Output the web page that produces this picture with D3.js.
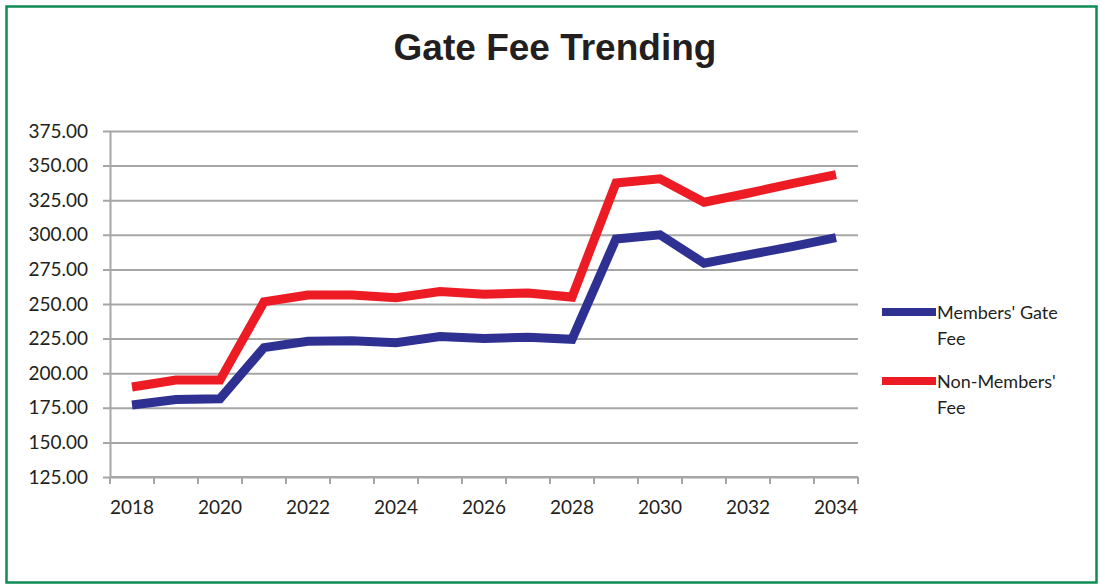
<!DOCTYPE html>
<html>
<head>
<meta charset="utf-8">
<script src="https://cdn.jsdelivr.net/npm/d3@7"></script>
<style>
  html, body { margin: 0; padding: 0; background: #fff; }
  svg { display: block; }
</style>
</head>
<body>
<svg id="chart" width="1101" height="585"></svg>
<script>
// Fee schedule by year
const years = ["2018","2019","2020","2021","2022","2023","2024","2025","2026",
               "2027","2028","2029","2030","2031","2032","2033","2034"];
const membersFee = [177, 181, 181.5, 218.5, 223, 223.5, 222, 226.5, 225,
                    226, 224.5, 297, 300, 279.5, 285.5, 291.5, 298];
const nonMembersFee = [190, 195, 195, 251.5, 256.5, 256.5, 254.5, 259, 257,
                       258, 255, 337.5, 340.5, 323.5, 330, 337, 343.5];
const yTicks = [125, 150, 175, 200, 225, 250, 275, 300, 325, 350, 375];
const xTickLabels = years.filter((d, i) => i % 2 === 0);

const seriesNames = ["Members' Gate Fee", "Non-Members' Fee"];
const seriesColors = ["#2e3192", "#ed1c24"];
const legendLines = [["Members' Gate", "Fee"], ["Non-Members'", "Fee"]];

const svg = d3.select("#chart");
const plot = { left: 110, right: 858, top: 131, bottom: 477 };

// outer frame
svg.append("rect")
  .attr("x", 6.5).attr("y", 6.5)
  .attr("width", 1090).attr("height", 576)
  .attr("fill", "#fff")
  .attr("stroke", "#0e8c56")
  .attr("stroke-width", 2.5);

// title
svg.append("text")
  .attr("x", 555).attr("y", 60)
  .attr("text-anchor", "middle")
  .attr("font-family", "'Liberation Sans', Arial, sans-serif")
  .attr("font-weight", "bold")
  .attr("font-size", 37)
  .attr("fill", "#231f20")
  .text("Gate Fee Trending");

const x = d3.scaleBand().domain(years).range([plot.left, plot.right]).padding(0);
const y = d3.scaleLinear().domain([125, 375]).range([plot.bottom, plot.top]);

const gridColor = "#a6a6a6";
const labelFont = "Lato, 'Open Sans', sans-serif";

// y axis with full-width gridlines
const yAxis = svg.append("g")
  .attr("transform", `translate(${plot.left},0)`)
  .call(d3.axisLeft(y)
    .tickValues(yTicks)
    .tickFormat(d3.format(".2f"))
    .tickSizeInner(-(plot.right - plot.left))
    .tickSizeOuter(0)
    .tickPadding(22));
yAxis.select(".domain").attr("stroke", gridColor).attr("stroke-width", 2);
yAxis.selectAll(".tick line")
  .attr("stroke", gridColor).attr("stroke-width", 2)
  .attr("x1", -7);
yAxis.selectAll(".tick text")
  .attr("font-family", labelFont)
  .attr("font-size", 19)
  .attr("fill", "#231f20");

// x axis: ticks on band edges, labels on every other band
const xAxisG = svg.append("g")
  .attr("transform", `translate(0,${plot.bottom})`);
xAxisG.append("line")
  .attr("x1", plot.left).attr("x2", plot.right)
  .attr("stroke", gridColor).attr("stroke-width", 2);
const edges = years.map(d => x(d)).concat([x(years[years.length - 1]) + x.bandwidth()]);
xAxisG.selectAll("line.tk").data(edges).join("line")
  .attr("class", "tk")
  .attr("x1", d => d).attr("x2", d => d)
  .attr("y1", 0).attr("y2", 7)
  .attr("stroke", gridColor).attr("stroke-width", 2);
xAxisG.selectAll("text").data(xTickLabels).join("text")
  .attr("x", d => x(d) + x.bandwidth() / 2)
  .attr("y", 37)
  .attr("text-anchor", "middle")
  .attr("font-family", labelFont)
  .attr("font-size", 19)
  .attr("fill", "#231f20")
  .text(d => d);

// series lines
const line = d3.line()
  .x((d, i) => x(years[i]) + x.bandwidth() / 2)
  .y(d => y(d));
[membersFee, nonMembersFee].forEach((vals, k) => {
  svg.append("path")
    .datum(vals)
    .attr("fill", "none")
    .attr("stroke", seriesColors[k])
    .attr("stroke-width", 9)
    .attr("stroke-linejoin", "miter")
    .attr("stroke-linecap", "butt")
    .attr("d", line);
});

// legend
const legend = svg.append("g").attr("transform", "translate(882,312)");
seriesNames.forEach((name, k) => {
  const g = legend.append("g").attr("transform", `translate(0,${k * 69})`);
  g.append("line")
    .attr("x1", 0).attr("x2", 54)
    .attr("stroke", seriesColors[k]).attr("stroke-width", 8);
  const t = g.append("text")
    .attr("font-family", labelFont)
    .attr("font-size", 18)
    .attr("fill", "#231f20");
  legendLines[k].forEach((ln, j) => {
    t.append("tspan").attr("x", 55).attr("y", 7 + j * 26).text(ln);
  });
});
</script>
</body>
</html>
